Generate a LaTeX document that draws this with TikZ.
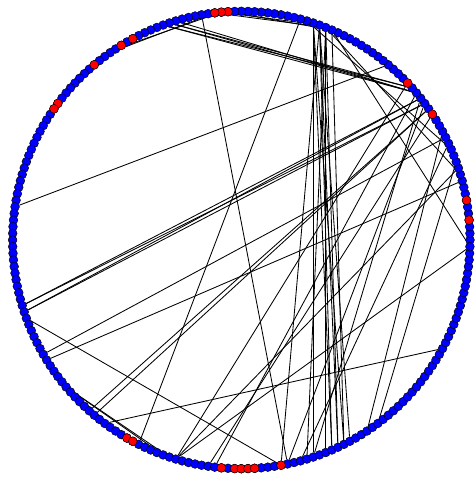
\documentclass[tikz,border=0pt]{standalone}
\usepackage{tikz}
\usetikzlibrary{backgrounds}

\begin{document}
\begin{tikzpicture}[x=1pt, y=1pt,
    vtx/.style={circle, draw=black, line width=0.45pt, fill=blue, minimum size=8.8pt, inner sep=0pt},
    hot/.style={vtx, fill=red},
    edge/.style={draw=black, line width=0.85pt}]
    \useasboundingbox (0,0) rectangle (475,478);

    % 节点
    \begin{scope}[shift={(241.3,238)}]
        \foreach \i in {0,...,215}
            \node[vtx] (v\i) at (\i*5/3:228.7) {};
        \foreach \i in {3,6,20,26,56,57,58,71,73,78,86,87,144,145,159,161,162,163,164,168}
            \node[hot] (r\i) at (v\i) {};
    \end{scope}

    % 边
    \begin{scope}[on background layer]
        \foreach \a/\b in {103/30, 118/22, 118/23, 119/22, 119/23, 120/168, 126/16, 127/9,
                132/150, 132/151, 137/21, 138/21, 140/199, 45/146, 152/215, 152/11, 152/26,
                74/57, 75/58, 57/42, 58/41, 56/40, 64/24, 65/24, 65/25, 66/25, 66/24, 60/169,
                42/168, 41/172, 43/173, 41/175, 42/176, 43/176, 41/177, 42/177, 43/178, 40/178,
                42/179, 17/182, 12/184, 15/171, 20/157, 24/158, 22/169, 23/173, 41/10, 40/215, 44/14}
            \draw[edge] (v\a) -- (v\b);
    \end{scope}
\end{tikzpicture}
\end{document}
